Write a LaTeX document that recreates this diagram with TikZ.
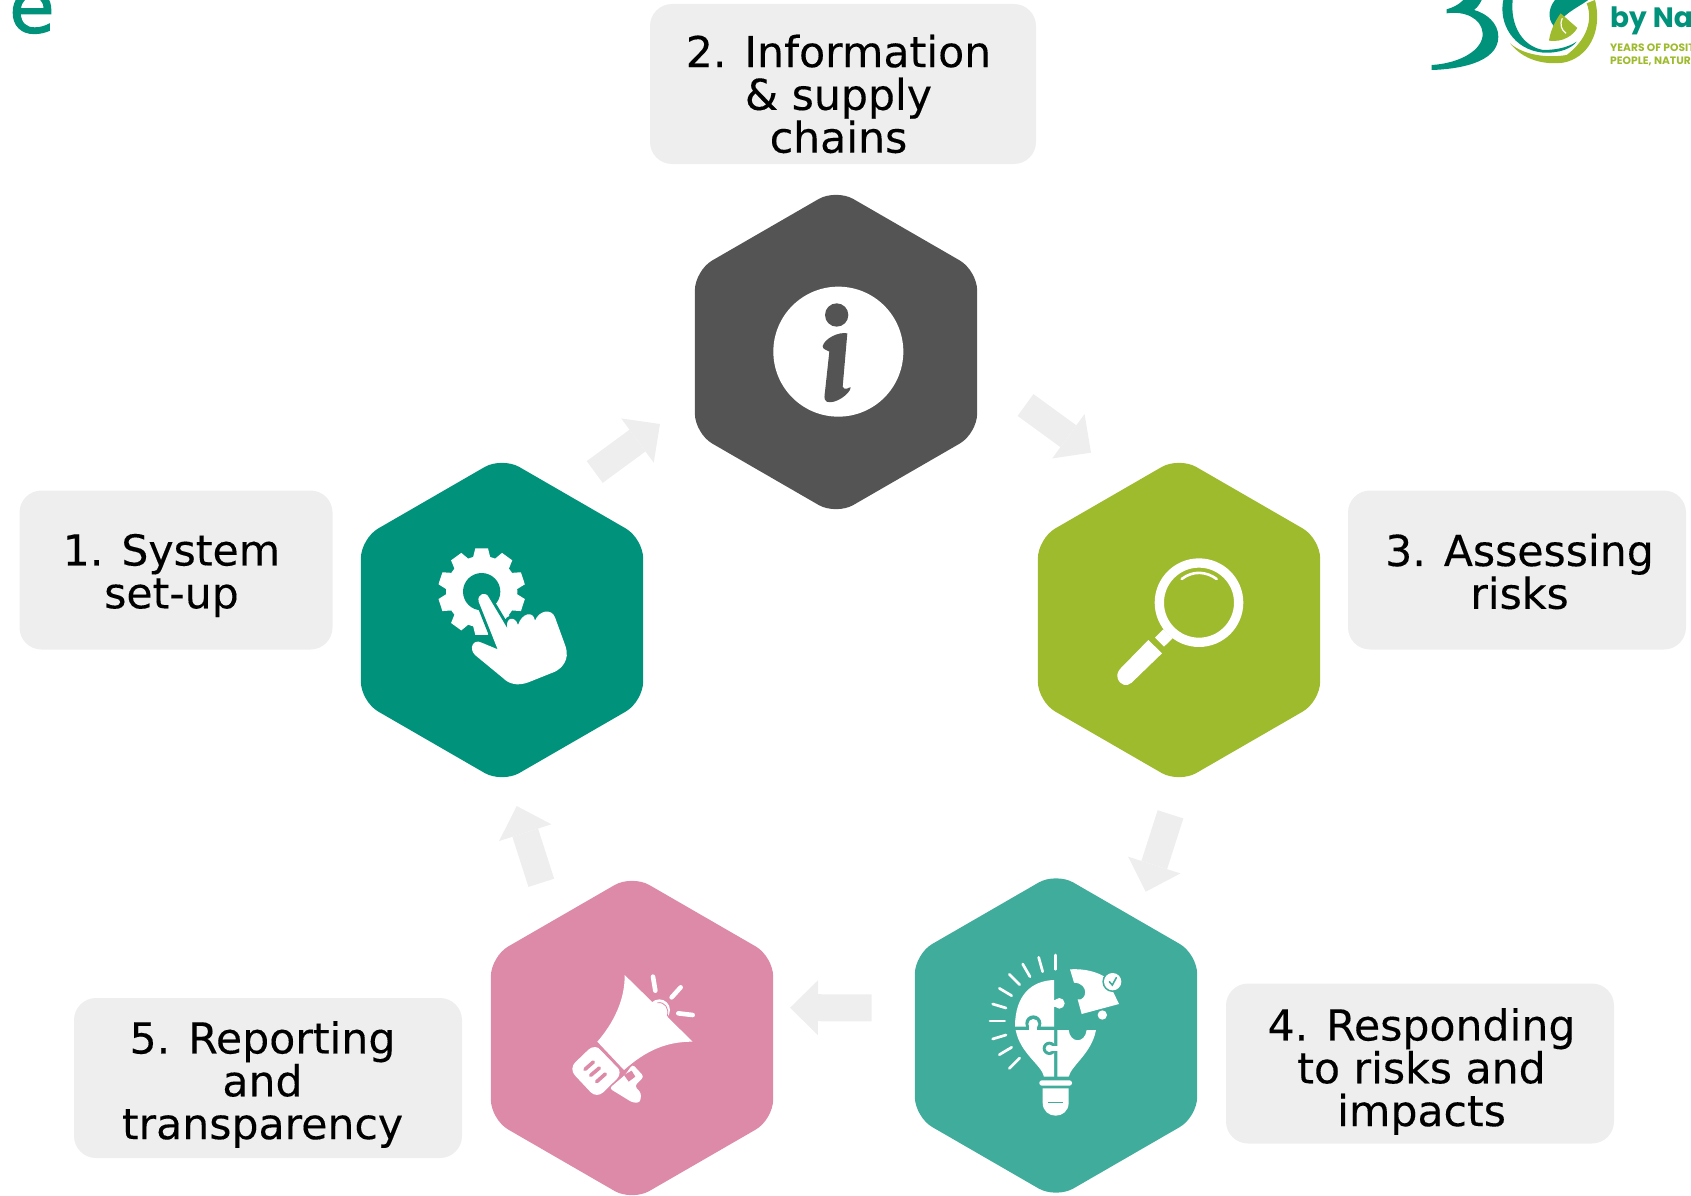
\documentclass[tikz,border=0pt]{standalone}
\usepackage{fontspec}
\setmainfont{DejaVu Sans}
\newfontfamily\labelfont[FakeBold=0.25]{DejaVu Sans}
\newfontfamily\titlefont[FakeBold=1.6]{DejaVu Sans}
\newfontfamily\logofont{Poppins}
\usetikzlibrary{arrows.meta,shapes.geometric}
\definecolor{gteal}{HTML}{00927A}
\definecolor{gdark}{HTML}{545454}
\definecolor{golive}{HTML}{9EBA2D}
\definecolor{gsea}{HTML}{40AD9C}
\definecolor{gpink}{HTML}{DD89A8}
\definecolor{gpale}{HTML}{EEEEEE}
\tikzset{
  icon/.style={shift={#1},x=.3333pt,y=-.3333pt},
  hexa/.style={regular polygon,regular polygon sides=6,shape border rotate=30,
    minimum size=326pt,inner sep=0pt,rounded corners=20pt},
  plate/.style={fill=gpale,rounded corners=22pt,inner sep=0pt},
  txt/.style={align=center,inner sep=0pt,font=\labelfont\fontsize{42.6}{42.8}\selectfont},
  flow/.style={draw=gpale,line width=27pt,-{Triangle[width=55pt,length=28pt,line width=0pt]}}
}
\begin{document}
\begin{tikzpicture}[x=1pt,y=-1pt]
    \useasboundingbox (0,0) rectangle (1691,1196);
    \clip (0,0) rectangle (1691,1196);

    \node[hexa,fill=gteal] at (502,620) (hexsys) {};
    \node[hexa,fill=gdark] at (836,352) (hexinfo) {};
    \node[hexa,fill=golive] at (1179,620) (hexrisk) {};
    \node[hexa,fill=gsea] at (1056,1035.5) (hexresp) {};
    \node[hexa,fill=gpink] at (632,1038) (hexrep) {};

    \node[plate,minimum width=313pt,minimum height=159pt] at (176,570) (boxsys) {};
    \node[plate,minimum width=386pt,minimum height=160pt] at (843,84) (boxinfo) {};
    \node[plate,minimum width=338pt,minimum height=159pt] at (1517,570) (boxrisk) {};
    \node[plate,minimum width=388pt,minimum height=160pt] at (1420,1063.5) (boxresp) {};
    \node[plate,minimum width=388pt,minimum height=160pt] at (268,1078) (boxrep) {};

    \node[txt] at (171.5,575.5) (txtsys) {1. System\\set-up};
    \node[txt] at (838.5,94) (txtinfo) {2. Information\\\& supply\\chains};
    \node[txt] at (1519.5,571.5) (txtrisk) {3. Assessing\\risks};
    \node[txt] at (1421.5,1071.5) (txtresp) {4. Responding\\to risks and\\impacts};
    \node[txt] at (262.5,1084.5) (txtrep) {5. Reporting\\and\\transparency};

    \draw[flow] ([shift={(92.7,-148)}]hexsys.center) -- ([shift={(-176,72)}]hexinfo.center);
    \draw[flow] ([shift={(189.5,53)}]hexinfo.center) -- ([shift={(-88,-167.3)}]hexrisk.center);
    \draw[flow] ([shift={(-8.5,194.3)}]hexrisk.center) -- ([shift={(89.7,-143.8)}]hexresp.center);
    \draw[flow] ([shift={(-184.3,-27.7)}]hexresp.center) -- ([shift={(158,-30.3)}]hexrep.center);
    \draw[flow] ([shift={(-90.7,-155.2)}]hexrep.center) -- ([shift={(14.7,186)}]hexsys.center);

    % gear and hand
    \begin{scope}[icon={(420,530)}]
      \fill[white] (185,185) circle[radius=107];
      \foreach \a in {0,36,...,324}
        \fill[white,shift={(185,185)},rotate=\a] (-26,-102) -- (-19,-130) -- (19,-130) -- (26,-102) -- cycle;
      \fill[gteal] (185,185) circle[radius=56];
      \fill[white,preaction={draw=gteal,line width=6pt}] (233,358) -- (176,215) .. controls (170,192) and (198,182) .. (207,203)
        -- (262,295) .. controls (255,262) and (285,255) .. (294,285)
        .. controls (305,250) and (340,240) .. (345,272)
        .. controls (358,240) and (395,235) .. (405,262) -- (437,350)
        .. controls (450,390) and (425,415) .. (405,425) -- (325,457)
        .. controls (290,470) and (265,460) .. (250,445) -- (165,375)
        .. controls (145,355) and (160,325) .. (185,338) -- cycle;
    \end{scope}

    % info sign
    \begin{scope}[icon={(760,270)}]
      \fill[white] (235,245) circle[radius=195];
      \fill[gdark] (230,135) circle[radius=35];
      \fill[gdark] (188,228) .. controls (195,205) and (235,185) .. (262,190) -- (248,350)
        .. controls (255,365) and (268,350) .. (272,352) .. controls (272,370) and (225,405) .. (200,395)
        .. controls (190,388) and (194,375) .. (195,365) -- (208,245)
        .. controls (200,238) and (188,240) .. (188,228) -- cycle;
    \end{scope}

    % magnifier
    \begin{scope}[icon={(1090,540)}]
      \draw[white,line width=9.3pt] (327,188) circle[radius=119];
      \fill[white] (195,293) -- (220,268) -- (248,295) -- (222,320) -- cycle;
      \fill[white] (175,300) -- (216,340) -- (125,428) .. controls (110,442) and (90,435) .. (83,415)
        .. controls (78,400) and (88,390) .. (92,385) -- cycle;
      \draw[white,line width=2.6pt,line cap=round] (275,117) .. controls (310,90) and (350,95) .. (380,117);
    \end{scope}

    % bulb and puzzle
    \begin{scope}[icon={(970,940)}]
      \foreach \xa/\ya/\xb/\yb in {257/45/257/88,206/52/218/95,158/72/180/110,118/103/149/134,88/145/125/167,
          68/192/108/204,60/243/104/243,68/297/108/285,88/344/125/322,118/385/149/354}
        \draw[white,line width=2.7pt,line cap=round] (\xa,\ya) -- (\xb,\yb);
      \fill[white] (252,120) .. controls (185,122) and (135,165) .. (135,260) -- (252,260) -- cycle;
      \fill[white] (268,190) circle[radius=16];
      \fill[white] (250,180) rectangle (262,200);
      \fill[gsea] (190,250) circle[radius=24];
      \fill[white] (137,270) -- (252,270) -- (252,410) -- (222,410) .. controls (215,375) and (150,340) .. (137,270) -- cycle;
      \fill[white] (190,252) circle[radius=15];
      \fill[white] (178,252) rectangle (202,270);
      \fill[gsea] (238,325) circle[radius=20];
      \fill[white] (238,325) circle[radius=11];
      \fill[white] (262,270) -- (296,270) .. controls (300,310) and (345,312) .. (350,270) -- (378,270)
        .. controls (365,340) and (305,375) .. (296,410) -- (262,410) -- cycle;
      \fill[white] (238,317) rectangle (264,333);
      \fill[white] (300,88) .. controls (340,85) and (385,95) .. (410,115) -- (447,192) -- (335,222)
        -- (323,178) .. controls (350,185) and (360,130) .. (312,128) -- cycle;
      \fill[white] (397,225) circle[radius=14];
      \fill[gsea] (428,125) circle[radius=31];
      \fill[white] (428,125) circle[radius=26];
      \draw[gsea,line width=1.6pt,line cap=round] (418,125) -- (427,135) -- (439,113);
      \fill[white,rounded corners=2.5pt] (208,421) rectangle (306,437);
      \fill[white] (218,445) -- (296,445) -- (296,488) .. controls (296,540) and (218,540) .. (218,488) -- cycle;
      \draw[gsea,line width=1.6pt] (235,488) -- (280,488);
    \end{scope}

    % megaphone
    \begin{scope}[icon={(550,960)}]
      \fill[white] (328,150) circle[radius=32];
      \draw[gpink,line width=.8pt] (322,128) .. controls (345,125) and (358,145) .. (352,168);
      \fill[white] (224,45) -- (428,245) .. controls (350,245) and (290,270) .. (222,330) -- (142,245)
        .. controls (190,190) and (225,120) .. (224,45) -- cycle;
      \fill[white,rounded corners=9pt] (135,250) -- (220,338) -- (140,416) -- (56,326) -- cycle;
      \fill[white,rounded corners=3pt] (248,313) -- (282,350) -- (254,378) -- (274,400) -- (270,428) -- (248,428) -- (178,385) -- (225,345) -- cycle;
      \fill[gpink] (222,345) -- (245,332) -- (256,350) -- (236,365) -- cycle;
      \draw[gpink,line width=1.1pt] (135,250) -- (220,338);
      \foreach \xa/\ya/\xb/\yb in {105/328/130/306,122/346/148/324,140/365/166/342}
        \draw[gpink,line width=3.6pt,line cap=round] (\xa,\ya) -- (\xb,\yb);
      \foreach \xa/\ya/\xb/\yb in {309/50/316/92,392/82/365/112,385/160/428/165}
        \draw[white,line width=4.6pt,line cap=round] (\xa,\ya) -- (\xb,\yb);
    \end{scope}

    % title letter and logo
    \node[anchor=base west,inner sep=0pt,text=gteal,font=\titlefont\fontsize{74}{74}\selectfont] at (9,32.5) (titleend) {e};
    \begin{scope}[icon={(1400,0)}]
      \fill[gteal] (190,0) .. controls (175,15) and (160,22) .. (140,28) -- (140,40) .. controls (195,32) and (245,55) .. (248,100)
        .. controls (250,150) and (180,190) .. (95,195) -- (95,210) .. controls (170,208) and (295,190) .. (295,110)
        .. controls (295,70) and (260,40) .. (222,30) .. controls (235,20) and (240,10) .. (245,0) -- cycle;
      \fill[gteal] (310,0) .. controls (295,70) and (340,150) .. (430,158) .. controls (480,160) and (515,145) .. (530,125)
        .. controls (500,145) and (460,150) .. (430,150) .. controls (370,140) and (330,80) .. (338,0) -- cycle;
      \fill[golive] (330,130) .. controls (370,180) and (430,195) .. (490,188) .. controls (560,175) and (610,100) .. (585,0)
        -- (560,10) .. controls (580,60) and (560,120) .. (500,165) .. controls (440,175) and (370,165) .. (330,130) -- cycle;
      \fill[gteal] (465,0) .. controls (440,30) and (445,70) .. (470,85) .. controls (480,45) and (530,25) .. (565,0) -- cycle;
      \fill[golive] (482,40) .. controls (460,70) and (450,100) .. (447,122) .. controls (490,128) and (520,105) .. (532,84) -- cycle;
      \draw[white,line width=1.2pt] (487,55) .. controls (478,75) and (485,90) .. (498,100);
    \end{scope}
    \node[anchor=base west,inner sep=0pt,text=gteal,font=\logofont\bfseries\fontsize{28}{28}\selectfont] at (1610,28) (logoby) {by Na};
    \node[anchor=base west,inner sep=0pt,text=golive,font=\logofont\bfseries\fontsize{10.7}{10.7}\selectfont] at (1610,51.5) (logoyears) {YEARS OF POSIT};
    \node[anchor=base west,inner sep=0pt,text=golive,font=\logofont\bfseries\fontsize{10.7}{10.7}\selectfont] at (1610,65) (logopeople) {PEOPLE, NATUR};
  \end{tikzpicture}
\end{document}
